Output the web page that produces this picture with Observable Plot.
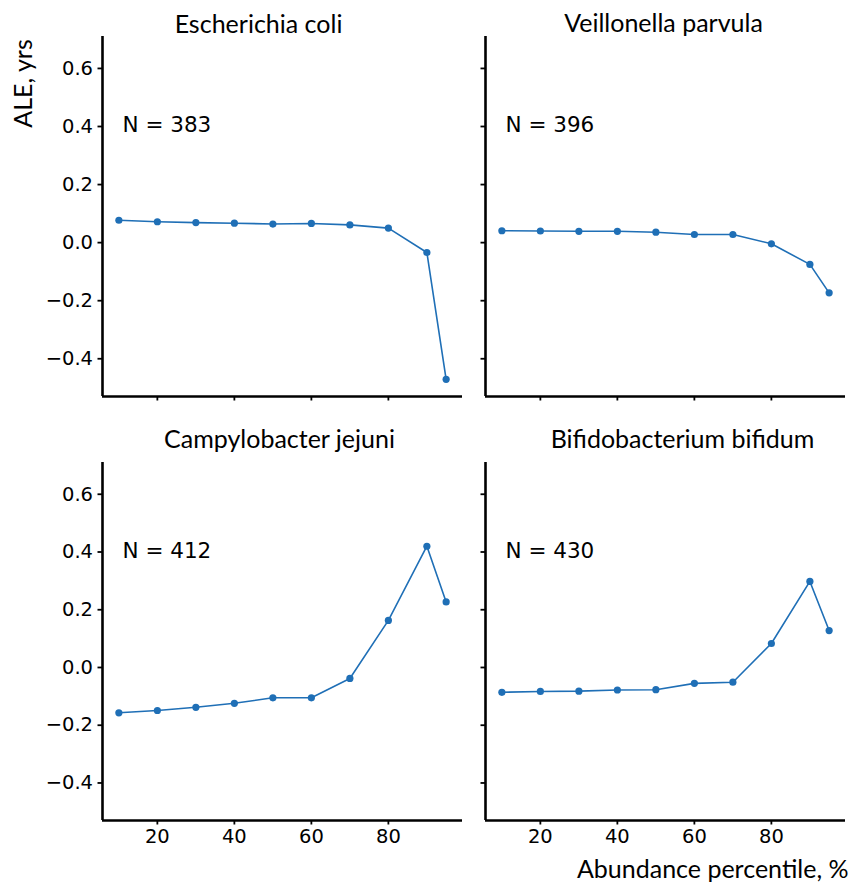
<!DOCTYPE html>
<html>
<head>
<meta charset="utf-8">
<script src="https://cdn.jsdelivr.net/npm/d3@7"></script>
<script src="https://cdn.jsdelivr.net/npm/@observablehq/plot@0.6"></script>
<style>
  html, body { margin: 0; padding: 0; background: #fff; }
  #figure { position: relative; width: 852px; height: 887px; }
  #figure svg { position: absolute; }
</style>
</head>
<body>
<div id="figure"></div>
<script>
// Abundance percentile bins shared by every panel
const percentiles = [10, 20, 30, 40, 50, 60, 70, 80, 90, 95];

// Species shown, one panel each, with sample counts
const species = ["Escherichia coli", "Veillonella parvula", "Campylobacter jejuni", "Bifidobacterium bifidum"];
const counts = [383, 396, 412, 430];

// Accumulated local effect (years) per percentile bin
const aleEcoli = [0.077, 0.072, 0.069, 0.067, 0.064, 0.066, 0.061, 0.050, -0.034, -0.471];
const aleVparvula = [0.041, 0.040, 0.039, 0.039, 0.036, 0.028, 0.028, -0.004, -0.075, -0.173];
const aleCjejuni = [-0.157, -0.149, -0.138, -0.124, -0.105, -0.105, -0.038, 0.163, 0.420, 0.227];
const aleBbifidum = [-0.086, -0.083, -0.082, -0.078, -0.077, -0.055, -0.051, 0.083, 0.298, 0.128];
const aleSeries = [aleEcoli, aleVparvula, aleCjejuni, aleBbifidum];

// Axis ticks and limits
const xTicks = [20, 40, 60, 80];
const yTicks = [-0.4, -0.2, 0.0, 0.2, 0.4, 0.6];
const xDomain = [5.75, 99.25];
const yDomain = [-0.53, 0.71];
const yLabel = "ALE, yrs";
const xLabel = "Abundance percentile, %";

const blue = "#1f6fb6";
const titleFont = "Lato, 'Open Sans', sans-serif";
const tickFont = "'DejaVu Sans', sans-serif";
const fmtY = d3.format(".1f");

// Grid placement of the four panels
const layout = [
  {left: 0,   top: 0,   width: 470, height: 420, ml: 102, mr: 8, mt: 36, mb: 24, row: 0, col: 0, titleDx: -24, titleDy: -4},
  {left: 470, top: 0,   width: 382, height: 420, ml: 15,  mr: 7, mt: 36, mb: 24, row: 0, col: 1, titleDx: -2,  titleDy: -5},
  {left: 0,   top: 420, width: 470, height: 467, ml: 102, mr: 8, mt: 42, mb: 67, row: 1, col: 0, titleDx: -3,  titleDy: -14.8},
  {left: 470, top: 420, width: 382, height: 467, ml: 15,  mr: 7, mt: 42, mb: 67, row: 1, col: 1, titleDx: 17,  titleDy: -14.8}
];

const fig = document.getElementById("figure");

species.forEach((name, i) => {
  const L = layout[i];
  const rows = percentiles.map((p, j) => ({p, ale: aleSeries[i][j]}));
  const showY = L.col === 0;
  const showX = L.row === 1;

  const marks = [
    Plot.axisY({
      ticks: yTicks, tickSize: 4.5, tickPadding: 5, strokeWidth: 1.8,
      tickFormat: showY ? fmtY : () => "", fontSize: 19.5, fontFamily: tickFont, label: null
    }),
    Plot.axisX({
      ticks: xTicks, tickSize: 4.5, tickPadding: 4, strokeWidth: 1.8,
      tickFormat: showX ? (d => String(d)) : () => "", fontSize: 19.5, fontFamily: tickFont, label: null
    }),
    // left and bottom spines
    Plot.ruleX([xDomain[0]], {stroke: "#000", strokeWidth: 2.6}),
    Plot.ruleY([yDomain[0]], {stroke: "#000", strokeWidth: 2.6}),
    Plot.line(rows, {x: "p", y: "ale", stroke: blue, strokeWidth: 1.6}),
    Plot.dot(rows, {x: "p", y: "ale", r: 3.6, fill: blue, stroke: "none"}),
    Plot.text([`N = ${counts[i]}`], {
      frameAnchor: "top-left", dx: 20, dy: 88.5, textAnchor: "start", lineAnchor: "middle",
      fontSize: 21.5, fontFamily: tickFont, fill: "#000"
    }),
    Plot.text([name], {
      frameAnchor: "top", dx: L.titleDx, dy: L.titleDy, lineAnchor: "bottom",
      fontSize: 25, fontFamily: titleFont, fill: "#000"
    })
  ];

  if (L.row === 0 && L.col === 0) {
    marks.push(Plot.text([yLabel], {
      frameAnchor: "top-left", dx: -79, dy: 47, rotate: -90,
      textAnchor: "middle", lineAnchor: "middle",
      fontSize: 25, fontFamily: titleFont, fill: "#000"
    }));
  }
  if (L.row === 1 && L.col === 1) {
    marks.push(Plot.text([xLabel], {
      frameAnchor: "bottom-right", dx: 3, dy: 57, textAnchor: "end", lineAnchor: "bottom",
      fontSize: 25, fontFamily: titleFont, fill: "#000"
    }));
  }

  const svg = Plot.plot({
    width: L.width,
    height: L.height,
    marginLeft: L.ml,
    marginRight: L.mr,
    marginTop: L.mt,
    marginBottom: L.mb,
    x: {domain: xDomain},
    y: {domain: yDomain},
    style: {background: "transparent", color: "#000", overflow: "visible", fontFamily: tickFont},
    marks
  });
  svg.style.left = L.left + "px";
  svg.style.top = L.top + "px";
  fig.appendChild(svg);
});
</script>
</body>
</html>
